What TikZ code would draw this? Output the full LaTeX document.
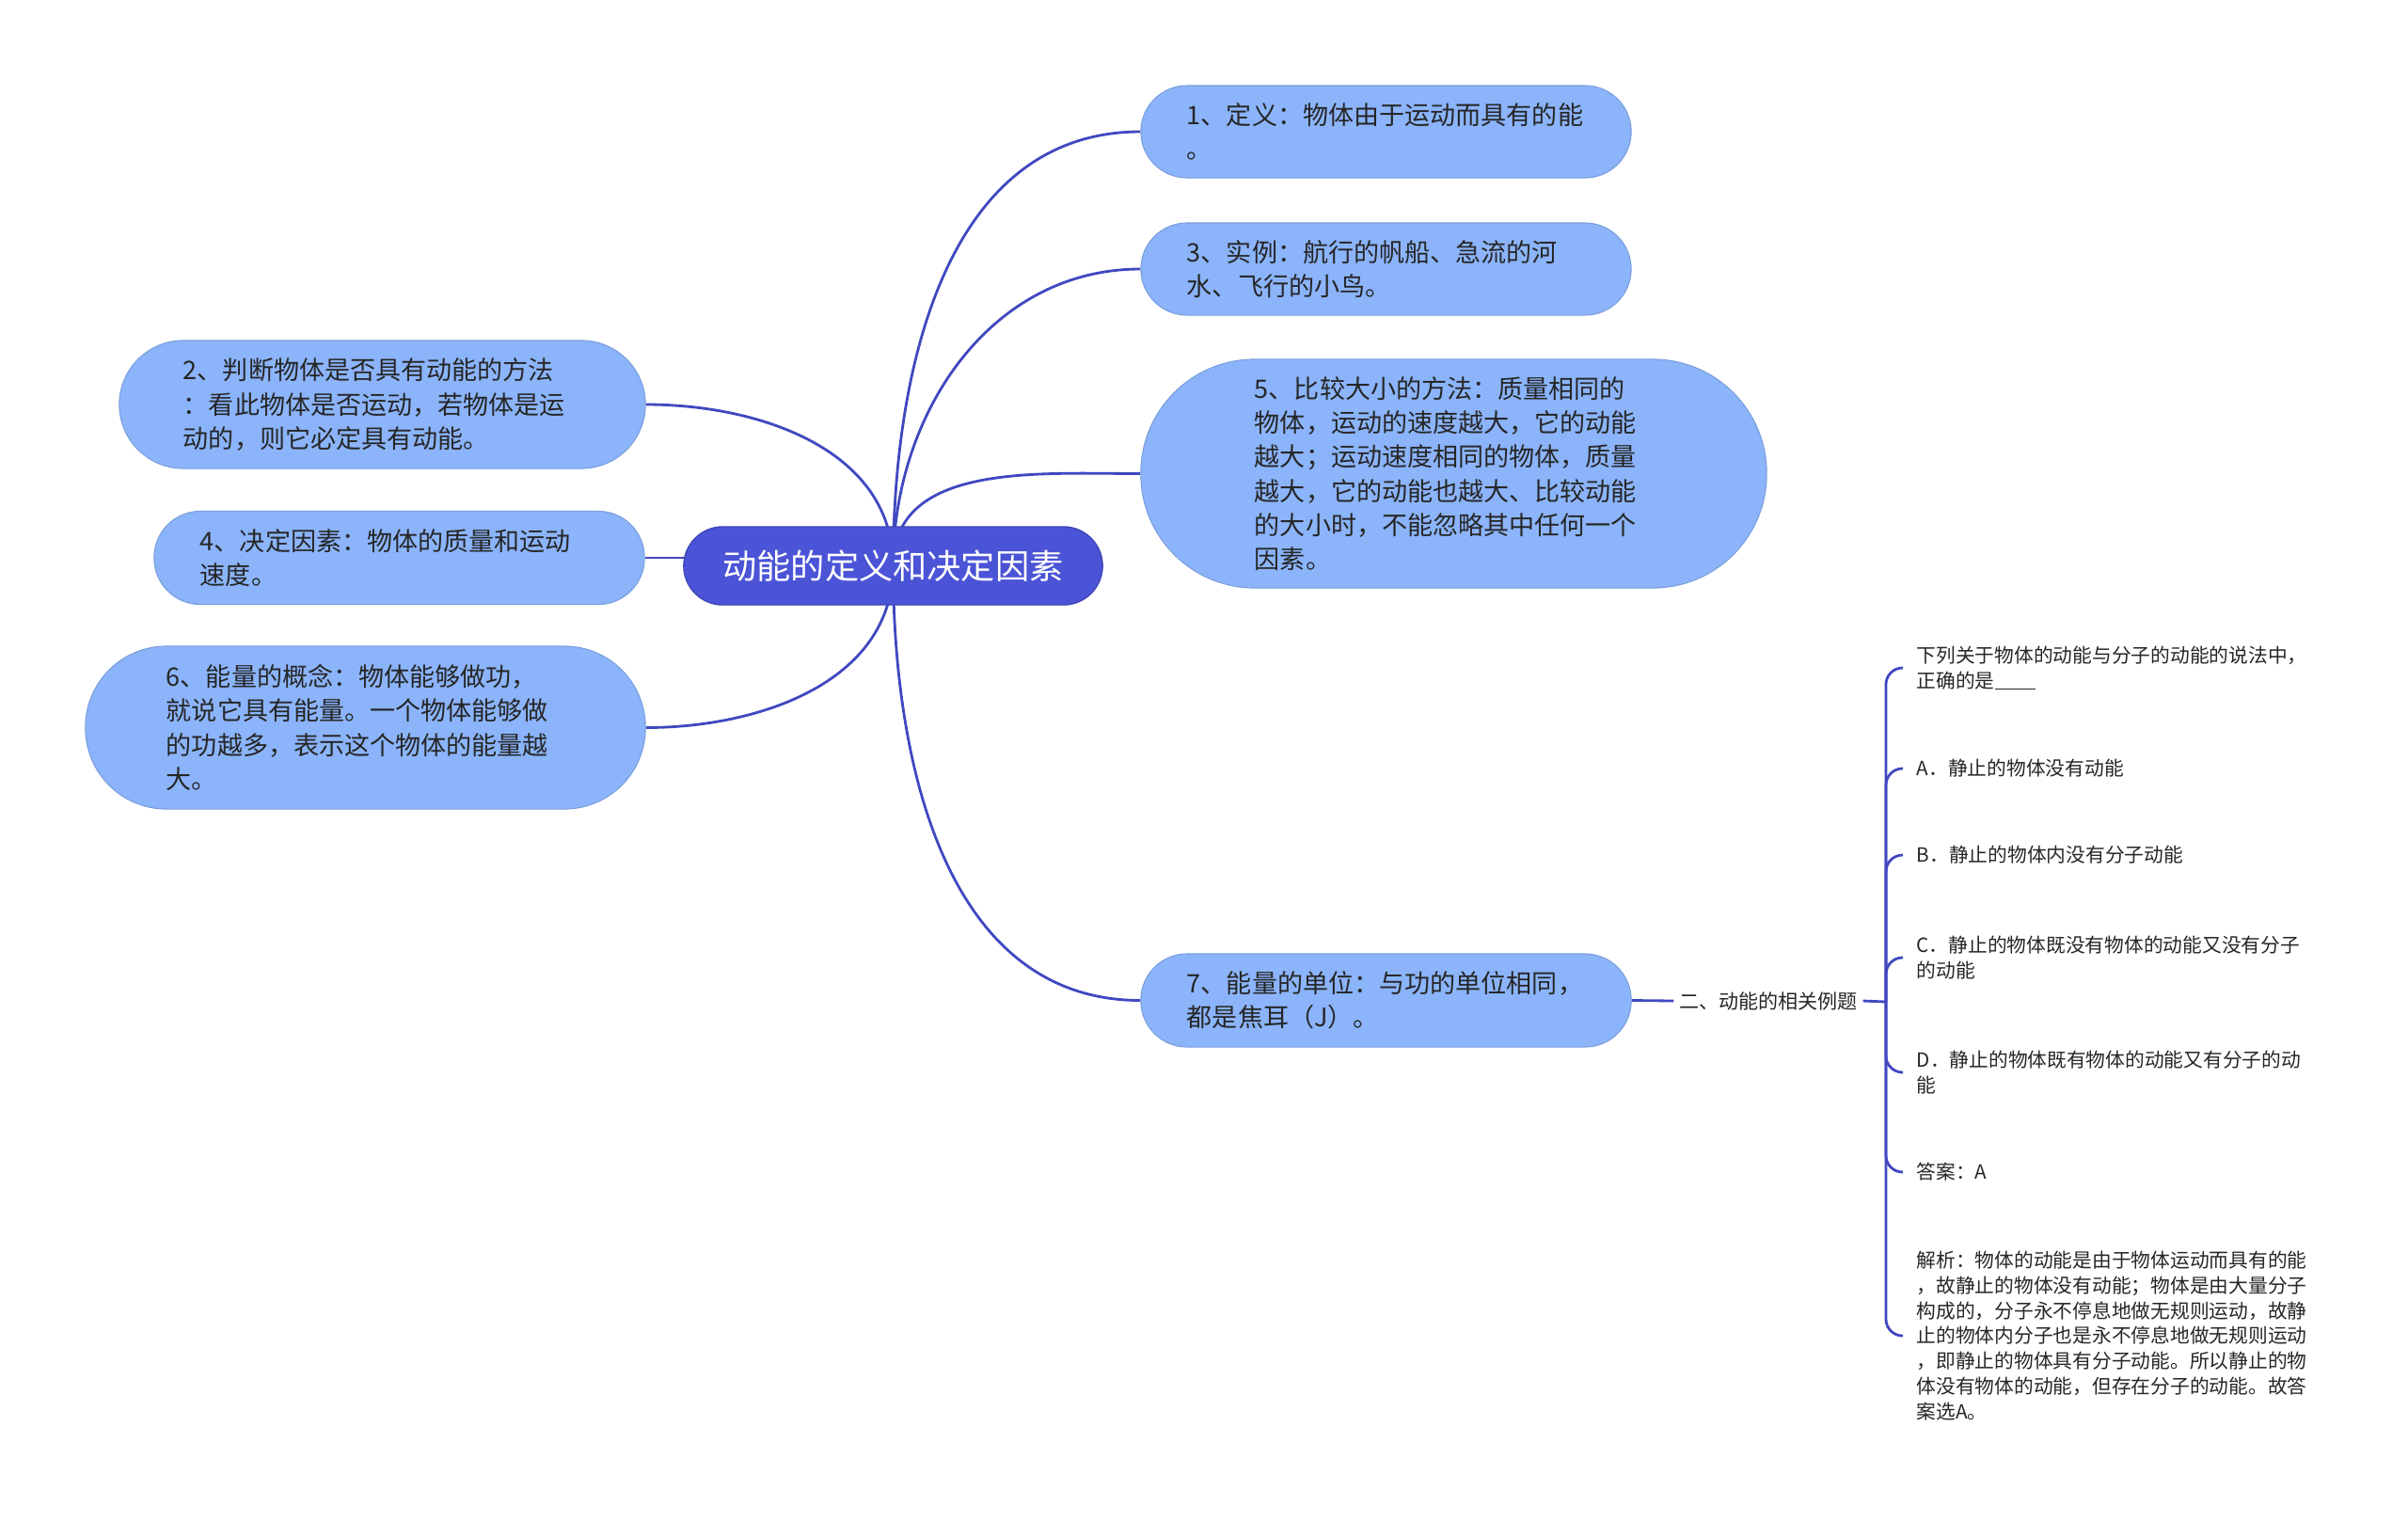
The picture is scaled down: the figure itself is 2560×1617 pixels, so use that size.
\documentclass[tikz,border=0pt]{standalone}
\usepackage{fontspec}
\setmainfont{Noto Sans CJK SC}
\usetikzlibrary{backgrounds}
\definecolor{rootblue}{RGB}{75,84,214}
\definecolor{topicblue}{RGB}{139,180,250}
\definecolor{linkblue}{RGB}{64,72,192}
\definecolor{inkgray}{RGB}{38,38,38}
\tikzset{
  rootbox/.style={rectangle,rounded corners=0.415cm,fill=rootblue,draw=rootblue!85!black,
    line width=0.4pt,text=white,minimum width=4.45cm,minimum height=0.83cm,inner sep=0pt,
    font=\fontsize{10.3pt}{12pt}\selectfont},
  topicbox/.style={rectangle,rounded corners=#1,inner xsep=#1,inner ysep=0pt,
    text width=4.23cm,fill=topicblue,draw=topicblue!88!black,
    line width=0.3pt,text=inkgray,align=left,
    font=\fontsize{7.7pt}{10.3pt}\selectfont},
  link/.style={draw=linkblue,line width=0.8pt},
  exlabel/.style={text=inkgray,inner xsep=0.05cm,font=\fontsize{6pt}{7.6pt}\selectfont},
  leafnote/.style={anchor=west,text=inkgray,align=left,inner xsep=0.14cm,inner ysep=0pt,
    font=\fontsize{5.9pt}{7.6pt}\selectfont},
}

\begin{document}
\begin{tikzpicture}[x=0.01cm,y=-0.01cm]
  \useasboundingbox (0,0) rectangle (2560,1617);
  % central topic
  \node[rootbox] (core) at (949.5,601.5) {动能的定义和决定因素};
  % right side
  \node[topicbox=0.49cm,minimum height=0.98cm] (def) at (1473.5,140)
    {1、定义：物体由于运动而具有的能\\。};
  \node[topicbox=0.49cm,minimum height=0.98cm] (case) at (1473.5,286)
    {3、实例：航行的帆船、急流的河\\水、飞行的小鸟。};
  \node[topicbox=1.21cm,minimum height=2.43cm] (cmp) at (1545.5,503.5)
    {5、比较大小的方法：质量相同的\\物体，运动的速度越大，它的动能\\越大；运动速度相同的物体，质量\\越大，它的动能也越大、比较动能\\的大小时，不能忽略其中任何一个\\因素。};
  \node[topicbox=0.49cm,minimum height=0.99cm] (unit) at (1473.5,1063.5)
    {7、能量的单位：与功的单位相同，\\都是焦耳（J）。};
  % left side
  \node[topicbox=0.68cm,minimum height=1.36cm] (judge) at (406.5,430)
    {2、判断物体是否具有动能的方法\\：看此物体是否运动，若物体是运\\动的，则它必定具有动能。};
  \node[topicbox=0.49cm,minimum height=0.99cm] (factor) at (424.5,593)
    {4、决定因素：物体的质量和运动\\速度。};
  \node[topicbox=0.86cm,minimum height=1.73cm] (energy) at (388.5,773.5)
    {6、能量的概念：物体能够做功，\\就说它具有能量。一个物体能够做\\的功越多，表示这个物体的能量越\\大。};
  % example question
  \node[exlabel] (ex) at (1880,1064) {二、动能的相关例题};
  \coordinate (jn) at (2005,1065);
  \node[leafnote] (q) at (2023,710)
    {下列关于物体的动能与分子的动能的说法中，\\正确的是\rule[-0.4pt]{0.43cm}{0.3pt}};
  \node[leafnote] (a) at (2023,817) {A．静止的物体没有动能};
  \node[leafnote] (b) at (2023,909) {B．静止的物体内没有分子动能};
  \node[leafnote] (c) at (2023,1018) {C．静止的物体既没有物体的动能又没有分子\\的动能};
  \node[leafnote] (d) at (2023,1140) {D．静止的物体既有物体的动能又有分子的动\\能};
  \node[leafnote] (ans) at (2023,1246) {答案：A};
  \node[leafnote] (expl) at (2023,1420)
    {解析：物体的动能是由于物体运动而具有的能\\，故静止的物体没有动能；物体是由大量分子\\构成的，分子永不停息地做无规则运动，故静\\止的物体内分子也是永不停息地做无规则运动\\，即静止的物体具有分子动能。所以静止的物\\体没有物体的动能，但存在分子的动能。故答\\案选A。};
  % connectors
  \begin{scope}[on background layer]
    \draw[link] (core.center) to[out=90,in=180] (def.west);
    \draw[link] (core.center) to[out=90,in=180] (case.west);
    \draw[link] (core.center) to[out=90,in=180] (cmp.west);
    \draw[link] (core.center) to[out=270,in=180] (unit.west);
    \draw[link] (core.center) to[out=90,in=0] (judge.east);
    \draw[link] (core.center |- factor.east) -- (factor.east);
    \draw[link] (core.center) to[out=270,in=0] (energy.east);
  \end{scope}
  \draw[link] (unit.east) -- (ex.west);
  \draw[link] (ex.east) -- (jn);
  \foreach \n in {q,a,b,c,d,ans,expl}
    \draw[link,rounded corners=5pt] (jn) |- (\n.west);
\end{tikzpicture}
\end{document}
